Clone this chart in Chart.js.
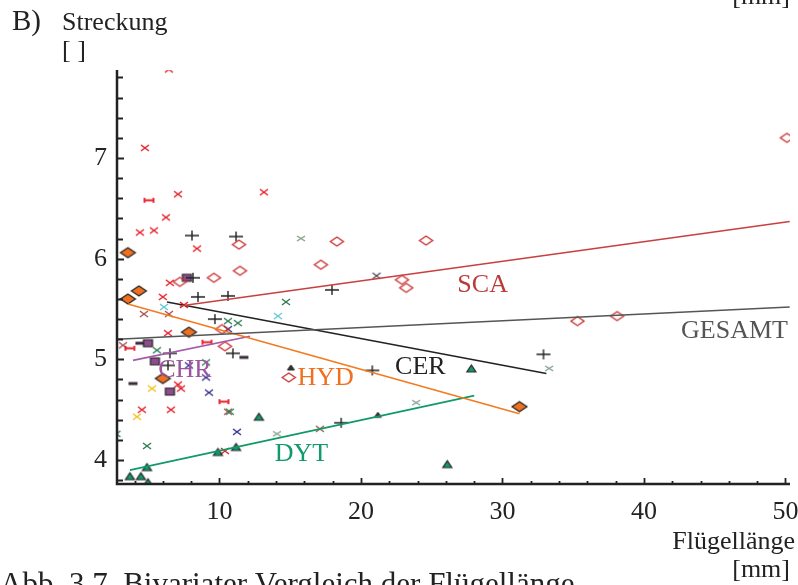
<!DOCTYPE html>
<html>
<head>
<meta charset="utf-8">
<script src="https://cdn.jsdelivr.net/npm/chart.js@4.4.0/dist/chart.umd.min.js"></script>
<style>
    html, body { margin: 0; padding: 0; background: #fff; }
    #wrap { position: relative; width: 798px; height: 585px; }
</style>
</head>
<body>
<div id="wrap"><canvas id="myChart" width="798" height="585"></canvas></div>
<script>
// Flügellänge [mm] (x) vs. Streckung (y), one pair of arrays per group
const scaX = [11.38, 11.45, 9.61, 7.2, 10.18, 10.39, 18.3, 24.6, 17.17, 22.9, 23.2, 14.9, 35.3, 38.1, 50.1];
const scaY = [6.14, 5.88, 5.81, 5.77, 5.30, 5.13, 6.17, 6.18, 5.94, 5.79, 5.71, 4.82, 5.38, 5.43, 7.2];

const cerX = [8.06, 11.17, 8.13, 8.48, 10.6, 6.5, 10.95, 6.36, 17.95, 20.8, 32.9, 18.6, 9.68];
const cerY = [6.23, 6.22, 5.81, 5.62, 5.63, 5.06, 5.06, 4.94, 5.69, 4.89, 5.05, 4.37, 5.40];

const hydX = [3.53, 4.31, 3.53, 7.84, 6.0, 31.2];
const hydY = [6.06, 5.68, 5.60, 5.27, 4.81, 4.53];

const chrX = [7.7, 4.95, 5.44, 6.5];
const chrY = [5.81, 5.16, 4.98, 4.68];

const dytX = [12.79, 9.89, 11.17, 4.88, 3.67, 4.45, 4.95, 27.8, 26.1];
const dytY = [4.43, 4.08, 4.13, 3.93, 3.84, 3.84, 3.78, 4.91, 3.96];

const darkTriX = [15.05, 21.2];
const darkTriY = [4.92, 4.45];

const redCrossX = [6.43, 4.73, 7.07, 13.14, 6.22, 4.38, 5.37, 8.41, 6.5, 6.0, 7.49, 6.36, 7.07, 7.28, 4.52, 6.57, 10.39];
const redCrossY = [7.88, 7.10, 6.64, 6.66, 6.41, 6.26, 6.28, 6.10, 5.76, 5.62, 5.54, 5.26, 4.75, 4.71, 4.50, 4.50, 4.09];

const redDashX = [5.02, 9.12, 3.67, 10.32];
const redDashY = [6.58, 5.17, 5.11, 4.58];

const blackDashX = [4.38, 11.73, 3.89];
const blackDashY = [5.16, 5.02, 4.76];

const greenCrossX = [10.6, 11.3, 5.58, 9.05, 10.74, 4.88, 14.7, 2.72];
const greenCrossY = [5.38, 5.36, 5.09, 4.97, 4.48, 4.14, 5.57, 4.26];

const cyanCrossX = [6.08, 14.13];
const cyanCrossY = [5.52, 5.43];

const yellowCrossX = [5.23, 4.17];
const yellowCrossY = [4.71, 4.43];

const navyCrossX = [10.6, 7.84, 9.05, 9.26, 11.24];
const navyCrossY = [5.30, 4.94, 4.82, 4.67, 4.28];

const brownCrossX = [4.66, 6.43, 3.18, 10.6, 17.1];
const brownCrossY = [5.45, 5.45, 5.14, 4.48, 4.31];

const paleCrossX = [14.06, 23.9, 15.76, 33.3];
const paleCrossY = [4.26, 4.57, 6.20, 4.91];

const greyCrossX = [21.1];
const greyCrossY = [5.83];

// regression lines: start and end point of each group
const scaLineX = [7.2, 50.3];     const scaLineY = [5.53, 6.37];
const gesamtLineX = [2.76, 50.3]; const gesamtLineY = [5.20, 5.52];
const cerLineX = [6.29, 33.1];    const cerLineY = [5.57, 4.86];
const hydLineX = [3.53, 31.2];    const hydLineY = [5.55, 4.46];
const chrLineX = [3.89, 12.16];   const chrLineY = [4.99, 5.23];
const dytLineX = [3.67, 28.0];    const dytLineY = [3.90, 4.64];

// group names written next to the lines
const groupNames = ['SCA', 'GESAMT', 'CER', 'HYD', 'CHR', 'DYT'];
const nameX = [28.6, 46.4, 24.2, 17.5, 7.56, 15.8];
const nameY = [5.74, 5.28, 4.92, 4.81, 4.89, 4.06];
const nameColors = ['#b93b3b', '#555555', '#222222', '#f07020', '#9c55a0', '#129a6b'];

const serif = "'Liberation Serif', 'DejaVu Serif', serif";

function pairs(xs, ys) {
    return xs.map((x, i) => ({x: x, y: ys[i]}));
}

// small canvas markers (the symbols are a bit wider than tall)
function marker(shape, w, h, fill, stroke, lw) {
    var pad = 2;
    var c = document.createElement('canvas');
    c.width = w + pad * 2;
    c.height = h + pad * 2;
    var g = c.getContext('2d');
    g.translate(pad, pad);
    g.lineWidth = lw;
    g.strokeStyle = stroke;
    g.fillStyle = fill;
    g.beginPath();
    if (shape == 'diamond') {
        g.moveTo(w / 2, 0); g.lineTo(w, h / 2); g.lineTo(w / 2, h); g.lineTo(0, h / 2); g.closePath();
    } else if (shape == 'rect') {
        g.rect(0, 0, w, h);
    } else if (shape == 'triangle') {
        g.moveTo(w / 2, 0); g.lineTo(w, h); g.lineTo(0, h); g.closePath();
    } else if (shape == 'plus') {
        g.moveTo(0, h / 2); g.lineTo(w, h / 2); g.moveTo(w / 2, 0); g.lineTo(w / 2, h);
    } else if (shape == 'x') {
        g.moveTo(0, 0); g.lineTo(w, h); g.moveTo(w, 0); g.lineTo(0, h);
    } else if (shape == 'dash') {
        g.moveTo(0, h / 2); g.lineTo(w, h / 2);
        g.moveTo(0, 0); g.lineTo(0, h); g.moveTo(w, 0); g.lineTo(w, h);
    } else if (shape == 'bar') {
        g.rect(0, h / 4, w, h / 2);
    }
    if (fill != 'none') g.fill();
    if (stroke != 'none') g.stroke();
    return c;
}

function points(xs, ys, style) {
    return {
        type: 'scatter',
        data: pairs(xs, ys),
        pointStyle: style,
        pointRadius: 5,
        pointHoverRadius: 5,
        showLine: false,
        clip: 0,
        order: 2
    };
}

function fitLine(xs, ys, color) {
    return {
        type: 'scatter',
        data: pairs(xs, ys),
        showLine: true,
        borderColor: color,
        borderWidth: 1.6,
        pointRadius: 0,
        pointHoverRadius: 0,
        clip: 0,
        order: 1
    };
}

const xTickValues = [];
for (let v = 4; v <= 50; v += 2) xTickValues.push(v);
const yTickValues = [];
for (let v = 38; v <= 78; v += 2) yTickValues.push(v / 10);

const axisPlugin = {
    id: 'axisAndText',
    afterDraw(chart) {
        const ctx = chart.ctx;
        const a = chart.chartArea;
        const x = chart.scales.x, y = chart.scales.y;
        ctx.save();
        ctx.strokeStyle = '#222';
        ctx.lineWidth = 2.5;
        ctx.beginPath();
        ctx.moveTo(a.left, a.top);
        ctx.lineTo(a.left, a.bottom);
        ctx.lineTo(a.right, a.bottom);
        ctx.stroke();

        // inward tick marks
        ctx.lineWidth = 1.8;
        ctx.beginPath();
        y.ticks.forEach(t => {
            const py = Math.round(y.getPixelForValue(t.value)) + 0.5;
            const len = Number.isInteger(Math.round(t.value * 10) / 10) ? 7 : 6;
            ctx.moveTo(a.left, py);
            ctx.lineTo(a.left + len, py);
        });
        x.ticks.forEach(t => {
            const px = Math.round(x.getPixelForValue(t.value)) + 0.5;
            const len = t.value % 10 === 0 ? 6 : 3;
            ctx.moveTo(px, a.bottom);
            ctx.lineTo(px, a.bottom - len);
        });
        ctx.stroke();

        // group names
        ctx.font = '26px ' + serif;
        ctx.textAlign = 'center';
        ctx.textBaseline = 'middle';
        groupNames.forEach((n, i) => {
            ctx.fillStyle = nameColors[i];
            ctx.fillText(n, x.getPixelForValue(nameX[i]), y.getPixelForValue(nameY[i]));
        });

        // axis titles and caption
        ctx.fillStyle = '#222';
        ctx.textBaseline = 'alphabetic';
        ctx.textAlign = 'left';
        ctx.font = '29px ' + serif;
        ctx.fillText('B)', 12, 30);
        ctx.font = '26px ' + serif;
        ctx.fillText('Streckung', 62, 30);
        ctx.fillText('[ ]', 62, 58);
        ctx.textAlign = 'right';
        ctx.fillText('Flügellänge', 795, 549);
        ctx.fillText('[mm]', 790, 577);
        ctx.fillText('[mm]', 790, 4);
        ctx.textAlign = 'left';
        ctx.font = '31px ' + serif;
        ctx.fillText('Abb. 3.7. Bivariater Vergleich der Flügellänge', 0, 594);
        ctx.restore();
    }
};

const ctx = document.getElementById('myChart').getContext('2d');
const myChart = new Chart(ctx, {
    type: 'scatter',
    data: {
        datasets: [
            fitLine(scaLineX, scaLineY, '#c8403f'),
            fitLine(gesamtLineX, gesamtLineY, '#555555'),
            fitLine(cerLineX, cerLineY, '#222222'),
            fitLine(hydLineX, hydLineY, '#f47a20'),
            fitLine(chrLineX, chrLineY, '#a45aa8'),
            fitLine(dytLineX, dytLineY, '#0f9a6a'),
            points(scaX, scaY, marker('diamond', 13, 9, 'none', '#cc3333', 1.4)),
            points(cerX, cerY, marker('plus', 14, 10, 'none', '#222222', 1.4)),
            points(hydX, hydY, marker('diamond', 15, 10, '#ee7020', '#222222', 1.2)),
            points(chrX, chrY, marker('rect', 9, 7, '#8c4c8e', '#222222', 1.2)),
            points(dytX, dytY, marker('triangle', 9, 7, '#139a6c', '#222222', 1.2)),
            points(darkTriX, darkTriY, marker('triangle', 7, 5, '#333333', '#222222', 1)),
            points(redCrossX, redCrossY, marker('x', 8, 6, 'none', '#e8202a', 1.5)),
            points(redDashX, redDashY, marker('dash', 9, 5, 'none', '#e8202a', 1.8)),
            points(blackDashX, blackDashY, marker('bar', 9, 6, '#3a2a3a', 'none', 1)),
            points(greenCrossX, greenCrossY, marker('x', 8, 6, 'none', '#2e7d50', 1.4)),
            points(cyanCrossX, cyanCrossY, marker('x', 8, 6, 'none', '#62c6d8', 1.4)),
            points(yellowCrossX, yellowCrossY, marker('x', 8, 6, 'none', '#f2c21c', 1.4)),
            points(navyCrossX, navyCrossY, marker('x', 8, 6, 'none', '#30308e', 1.4)),
            points(brownCrossX, brownCrossY, marker('x', 8, 6, 'none', '#a55050', 1.4)),
            points(paleCrossX, paleCrossY, marker('x', 8, 5, 'none', '#7f9c86', 1.3)),
            points(greyCrossX, greyCrossY, marker('x', 8, 6, 'none', '#50505e', 1.4))
        ]
    },
    options: {
        responsive: false,
        animation: false,
        devicePixelRatio: 1,
        layout: { padding: { left: 0, right: 8, top: 70, bottom: 0 } },
        plugins: {
            legend: { display: false },
            tooltip: { enabled: false }
        },
        scales: {
            x: {
                type: 'linear',
                min: 2.76,
                max: 50.32,
                grid: { display: false, drawTicks: false },
                border: { display: false },
                afterBuildTicks: function(scale) {
                    scale.ticks = xTickValues.map(v => ({value: v}));
                },
                afterFit: function(scale) {
                    scale.height = 101;
                    scale.paddingLeft = 0;
                    scale.paddingRight = 0;
                },
                ticks: {
                    autoSkip: false,
                    maxRotation: 0,
                    padding: 13,
                    color: '#222',
                    font: { family: serif, size: 26 },
                    callback: function(value) {
                        return value % 10 === 0 ? value : '';
                    }
                }
            },
            y: {
                type: 'linear',
                min: 3.762,
                max: 7.874,
                grid: { display: false, drawTicks: false },
                border: { display: false },
                afterBuildTicks: function(scale) {
                    scale.ticks = yTickValues.map(v => ({value: v}));
                },
                afterFit: function(scale) {
                    scale.width = 117;
                    scale.paddingTop = 0;
                    scale.paddingBottom = 0;
                },
                ticks: {
                    autoSkip: false,
                    padding: 10,
                    color: '#222',
                    font: { family: serif, size: 26 },
                    callback: function(value) {
                        const r = Math.round(value);
                        return Math.abs(value - r) < 1e-6 ? r : '';
                    }
                }
            }
        }
    },
    plugins: [axisPlugin]
});
</script>
</body>
</html>
